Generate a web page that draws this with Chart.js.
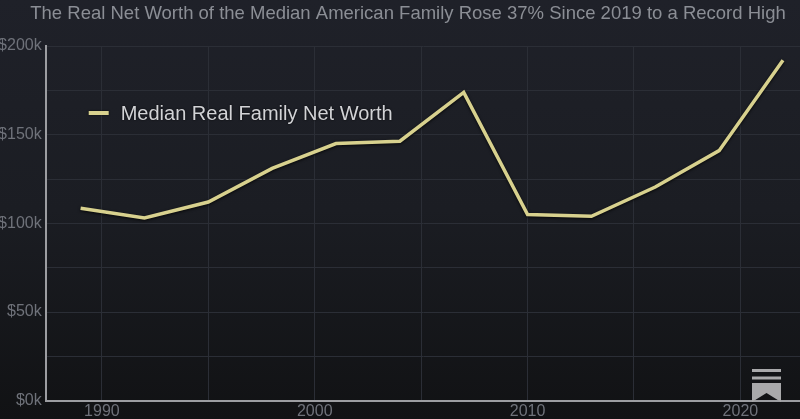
<!DOCTYPE html>
<html>
<head>
<meta charset="utf-8">
<script src="https://cdn.jsdelivr.net/npm/chart.js@4"></script>
<style>
  html, body { margin: 0; padding: 0; }
  body {
    width: 800px; height: 419px; overflow: hidden;
    background: linear-gradient(to bottom, #1f2129 0%, #1b1d23 50%, #111214 100%);
  }
  #wrap { position: relative; width: 800px; height: 419px; }
</style>
</head>
<body>
<div id="wrap"><canvas id="chart"></canvas></div>
<script>
const TITLE = "The Real Net Worth of the Median American Family Rose 37% Since 2019 to a Record High";
const SERIES_NAME = "Median Real Family Net Worth";

const YEARS = [1989, 1992, 1995, 1998, 2001, 2004, 2007, 2010, 2013, 2016, 2019, 2022];
// thousands of dollars
const NET_WORTH = [108.5, 103, 112, 131, 145, 146.3, 173.8, 105, 104, 120.5, 141, 192];

const X_TICKS = [1990, 1995, 2000, 2005, 2010, 2015, 2020];
const Y_TICKS = [0, 25, 50, 75, 100, 125, 150, 175, 200];

const LINE_COLOR = "#d8d18e";
const FONT = "'Liberation Sans', Arial, sans-serif";

const shadowLine = {
  id: "shadowLine",
  beforeDatasetsDraw(c) {
    c.ctx.save();
    c.ctx.shadowColor = "rgba(0,0,0,0.8)";
    c.ctx.shadowBlur = 3;
    c.ctx.shadowOffsetY = 1;
  },
  afterDatasetsDraw(c) {
    c.ctx.restore();
  }
};

const overlay = {
  id: "overlay",
  afterDraw(c) {
    const ctx = c.ctx;
    const a = c.chartArea;

    // title
    ctx.save();
    ctx.fillStyle = "#8b8e95";
    ctx.font = "18.5px " + FONT;
    ctx.textAlign = "center";
    ctx.textBaseline = "middle";
    ctx.fillText(TITLE, 408, 14);
    ctx.restore();

    // legend
    ctx.save();
    ctx.shadowColor = "rgba(0,0,0,0.8)";
    ctx.shadowBlur = 2;
    ctx.strokeStyle = LINE_COLOR;
    ctx.lineWidth = 4;
    ctx.beginPath();
    ctx.moveTo(a.left + 43, a.top + 67);
    ctx.lineTo(a.left + 63, a.top + 67);
    ctx.stroke();
    ctx.fillStyle = "#d2d3d6";
    ctx.font = "20px " + FONT;
    ctx.textBaseline = "middle";
    ctx.fillText(SERIES_NAME, a.left + 75, a.top + 68);
    ctx.restore();

    // logo mark
    ctx.save();
    ctx.fillStyle = "#a9a9ab";
    ctx.fillRect(752, 369, 29, 3);
    ctx.fillRect(752, 376.5, 29, 3);
    ctx.beginPath();
    ctx.moveTo(752, 383);
    ctx.lineTo(781, 383);
    ctx.lineTo(781, 402);
    ctx.lineTo(766.5, 393);
    ctx.lineTo(752, 402);
    ctx.closePath();
    ctx.fill();
    ctx.restore();
  }
};

new Chart(document.getElementById("chart"), {
  type: "line",
  data: {
    datasets: [{
      label: SERIES_NAME,
      data: YEARS.map((y, i) => ({ x: y, y: NET_WORTH[i] })),
      borderColor: LINE_COLOR,
      borderWidth: 3.5,
      pointRadius: 0,
      tension: 0,
      fill: false,
      clip: false
    }]
  },
  options: {
    responsive: true,
    maintainAspectRatio: false,
    animation: false,
    layout: { padding: { top: 46, right: 0, left: 0, bottom: 0 } },
    plugins: {
      legend: { display: false },
      tooltip: { enabled: false },
      title: { display: false }
    },
    scales: {
      x: {
        type: "linear",
        min: 1987.36,
        max: 2022.8,
        afterBuildTicks: s => { s.ticks = X_TICKS.map(v => ({ value: v })); },
        afterFit: s => { s.height = 18.3; },
        ticks: {
          color: "#6f727a",
          font: { family: FONT, size: 16 },
          padding: 1,
          maxRotation: 0,
          autoSkip: false,
          callback: v => (v % 10 === 0 ? String(v) : "")
        },
        grid: { color: "#2b2e36", lineWidth: 1, drawTicks: false },
        border: { color: "#9c9da1", width: 2 }
      },
      y: {
        min: 0,
        max: 200,
        afterBuildTicks: s => { s.ticks = Y_TICKS.map(v => ({ value: v })); },
        afterFit: s => { s.width = 45.7; },
        ticks: {
          color: "#6f727a",
          font: { family: FONT, size: 16 },
          padding: 4,
          autoSkip: false,
          callback: v => (v % 50 === 0 ? "$" + v + "k" : "")
        },
        grid: { color: "#2b2e36", lineWidth: 1, drawTicks: false },
        border: { color: "#9c9da1", width: 2 }
      }
    }
  },
  plugins: [shadowLine, overlay]
});
</script>
</body>
</html>
